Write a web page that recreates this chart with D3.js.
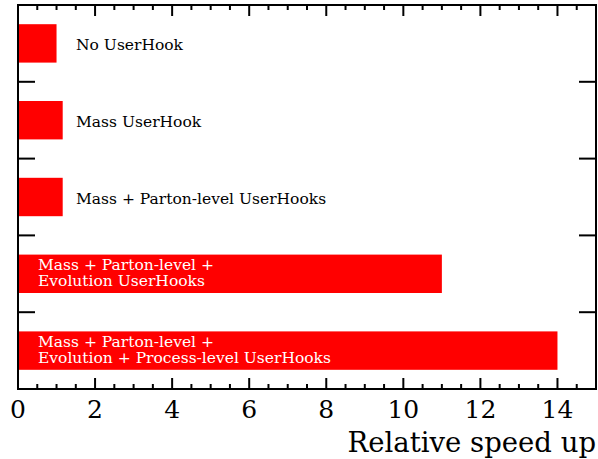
<!DOCTYPE html>
<html>
<head>
<meta charset="utf-8">
<script src="https://cdn.jsdelivr.net/npm/d3@7"></script>
<style>
body { margin: 0; background: #fff; }
</style>
</head>
<body>
<svg id="chart" width="598" height="459"></svg>
<script>
// chart data
var categories = ["No UserHook", "Mass UserHook", "Mass + Parton-level UserHooks",
	"Mass + Parton-level +\nEvolution UserHooks",
	"Mass + Parton-level +\nEvolution + Process-level UserHooks"];
var speedups = [1.0, 1.16, 1.16, 11.0, 14.0];
var insideLabel = [false, false, false, true, true];
var xTicks = [0, 2, 4, 6, 8, 10, 12, 14];

var FONT = "DejaVu Serif";

var margin = {top: 5, right: 2, bottom: 70, left: 18},
	width = 598 - margin.left - margin.right,
	height = 459 - margin.top - margin.bottom;

var svg = d3.select("#chart")
	.append("g")
	.attr("transform", "translate(" + margin.left + "," + margin.top + ")");

var x = d3.scaleLinear().domain([0, 15]).range([0, width]);
var y = d3.scaleBand().domain(d3.range(categories.length)).range([0, height]).paddingInner(0.5).paddingOuter(0.25);
var yb = d3.scaleBand().domain(d3.range(categories.length)).range([0, height]);

// bars
svg.selectAll(".bar")
	.data(speedups)
	.enter().append("rect")
	.attr("class", "bar")
	.attr("fill", "#ff0000")
	.attr("x", x(0))
	.attr("y", function(d, i) { return y(i); })
	.attr("width", function(d) { return x(d) - x(0); })
	.attr("height", y.bandwidth());

// labels, one text per line
categories.forEach(function(c, i) {
	var lines = c.split("\n");
	var cy = y(i) + y.bandwidth() / 2;
	lines.forEach(function(l, k) {
		svg.append("text")
			.attr("x", insideLabel[i] ? 20 : 58)
			.attr("y", lines.length > 1 ? cy + 4 + (k - 0.5) * 16 : cy + 7)
			.attr("fill", insideLabel[i] ? "#fff" : "#000")
			.attr("font-family", FONT)
			.attr("font-size", 15.5)
			.text(l);
	});
});

// frame
svg.append("rect")
	.attr("width", width).attr("height", height)
	.attr("fill", "none").attr("stroke", "#000").attr("stroke-width", 2);

// x ticks top & bottom
var minor = d3.range(0, 15.01, 0.5);
minor.forEach(function(v) {
	var major = Math.abs(v % 2) < 1e-9;
	var len = major ? 11 : 5;
	if (v === 0 || v >= 15) return;
	svg.append("line").attr("x1", x(v)).attr("x2", x(v)).attr("y1", height).attr("y2", height - len)
		.attr("stroke", "#000").attr("stroke-width", 2);
	svg.append("line").attr("x1", x(v)).attr("x2", x(v)).attr("y1", 0).attr("y2", len)
		.attr("stroke", "#000").attr("stroke-width", 2);
});

// y ticks at band boundaries
d3.range(1, categories.length).forEach(function(i) {
	var yy = yb(i);
	svg.append("line").attr("x1", 0).attr("x2", 17).attr("y1", yy).attr("y2", yy)
		.attr("stroke", "#000").attr("stroke-width", 2);
	svg.append("line").attr("x1", width - 17).attr("x2", width).attr("y1", yy).attr("y2", yy)
		.attr("stroke", "#000").attr("stroke-width", 2);
});

// tick labels
svg.selectAll(".xlab")
	.data(xTicks)
	.enter().append("text")
	.attr("class", "xlab")
	.attr("x", function(d) { return x(d); })
	.attr("y", height + 29)
	.attr("text-anchor", "middle")
	.attr("font-family", FONT)
	.attr("font-size", 25)
	.text(function(d) { return d; });

// axis title
svg.append("text")
	.attr("x", width)
	.attr("y", height + 63)
	.attr("text-anchor", "end")
	.attr("font-family", FONT)
	.attr("font-size", 27.5)
	.text("Relative speed up");
</script>
</body>
</html>
